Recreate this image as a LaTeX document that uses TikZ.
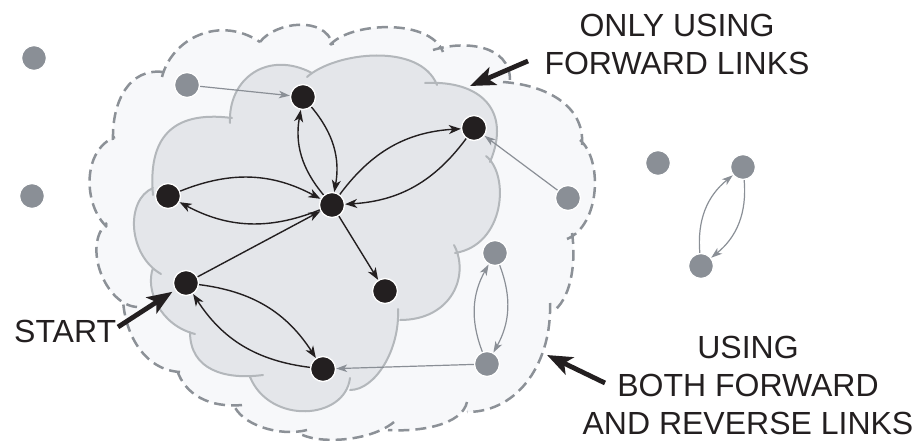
\documentclass[tikz,border=0pt]{standalone}
\usepackage{fontspec}
\setmainfont{Liberation Sans}
\usetikzlibrary{arrows.meta}
\definecolor{ink}{HTML}{231F20}
\definecolor{nodegray}{HTML}{8A8F96}
\definecolor{innerfill}{HTML}{E4E6EA}
\definecolor{innerline}{HTML}{B3B7BB}
\definecolor{outerfill}{HTML}{F7F8FA}
\definecolor{outerline}{HTML}{8C9197}

\begin{document}
\begin{tikzpicture}[x=1pt,y=-1pt,
  dot/.style={circle,minimum size=25pt,inner sep=0pt,draw=white,line width=1.3pt},
  bdot/.style={dot,fill=ink},
  gdot/.style={dot,fill=nodegray},
  blink/.style={draw=ink,line width=1.4pt,-{Stealth[length=12pt,width=9pt,inset=3.5pt]}},
  glink/.style={draw=nodegray,line width=1.2pt,-{Stealth[length=11pt,width=7.5pt,inset=3pt]}},
  pair/.style={bend left=25},
  callout/.style={draw=ink,line width=4.8pt,-{Stealth[length=25pt,width=19pt,inset=6pt]}},
  lbl/.style={font=\fontsize{32}{38}\selectfont,text=ink,inner sep=0pt,align=center},
  innerrim/.style={draw=innerline,line width=2pt,line cap=round},
  outerrim/.style={draw=outerline,line width=2.5pt,dash pattern=on 11pt off 6pt}]

\useasboundingbox (0,0) rectangle (921,441);

% outer region: nodes reachable using forward and reverse links
\fill[outerfill]
  (113,140) .. controls (112,100) and (130,68) .. (163,72)
  -- (162,77) .. controls (172,38) and (220,15) .. (260,42)
  -- (260,42) .. controls (275,22) and (325,15) .. (333,45)
  -- (330,45) .. controls (350,22) and (430,18) .. (443,52)
  -- (433,50) .. controls (465,40) and (510,45) .. (510,80)
  -- (503,82) .. controls (545,85) and (585,105) .. (582,145)
  -- (580,140) .. controls (603,160) and (600,225) .. (567,239)
  -- (572,233) .. controls (576,260) and (572,295) .. (555,310)
  -- (550,303) .. controls (552,360) and (520,412) .. (467,412)
  -- (467,402) .. controls (462,425) and (420,432) .. (388,430)
  -- (394,422) .. controls (370,442) and (315,445) .. (297,432)
  -- (307,430) .. controls (280,437) and (240,425) .. (233,403)
  -- (242,405) .. controls (210,408) and (185,395) .. (177,370)
  -- (180,372) .. controls (145,370) and (125,335) .. (123,300)
  -- (137,307) .. controls (105,305) and (82,245) .. (107,223)
  -- (107,227) .. controls (83,205) and (82,150) .. (115,137)
  -- cycle;
\draw[outerrim]
  (113,140) .. controls (112,100) and (130,68) .. (163,72)
  (162,77) .. controls (172,38) and (220,15) .. (260,42)
  (260,42) .. controls (275,22) and (325,15) .. (333,45)
  (330,45) .. controls (350,22) and (430,18) .. (443,52)
  (433,50) .. controls (465,40) and (510,45) .. (510,80)
  (503,82) .. controls (545,85) and (585,105) .. (582,145)
  (580,140) .. controls (603,160) and (600,225) .. (567,239)
  (572,233) .. controls (576,260) and (572,295) .. (555,310)
  (550,303) .. controls (552,360) and (520,412) .. (467,412)
  (467,402) .. controls (462,425) and (420,432) .. (388,430)
  (394,422) .. controls (370,442) and (315,445) .. (297,432)
  (307,430) .. controls (280,437) and (240,425) .. (233,403)
  (242,405) .. controls (210,408) and (185,395) .. (177,370)
  (180,372) .. controls (145,370) and (125,335) .. (123,300)
  (137,307) .. controls (105,305) and (82,245) .. (107,223)
  (107,227) .. controls (83,205) and (82,150) .. (115,137);

% inner region: nodes reachable using forward links only
\fill[innerfill]
  (153,192) .. controls (148,140) and (170,110) .. (232,118)
  -- (230,122) .. controls (228,78) and (268,50) .. (312,73)
  -- (310,75) .. controls (335,52) and (420,42) .. (437,85)
  -- (427,83) .. controls (480,80) and (512,110) .. (490,162)
  -- (487,158) .. controls (510,175) and (505,245) .. (455,253)
  -- (455,247) .. controls (470,275) and (452,320) .. (400,320)
  -- (398,310) .. controls (400,350) and (375,390) .. (350,390)
  -- (350,380) .. controls (345,420) and (270,425) .. (250,377)
  -- (262,375) .. controls (225,380) and (190,370) .. (190,332)
  -- (193,334) .. controls (160,325) and (145,290) .. (153,268)
  -- (160,272) .. controls (128,255) and (125,200) .. (153,188)
  -- cycle;
\draw[innerrim]
  (153,195) .. controls (148,140) and (170,110) .. (232,118)
  (230,123) .. controls (228,78) and (268,50) .. (312,73)
  (307,77) .. controls (335,52) and (420,42) .. (437,85)
  (425,83) .. controls (480,80) and (512,110) .. (490,162)
  (486,156) .. controls (510,175) and (505,245) .. (455,253)
  (454,245) .. controls (470,275) and (452,320) .. (400,320)
  (398,309) .. controls (400,350) and (375,390) .. (350,390)
  (350,378) .. controls (345,420) and (270,425) .. (250,377)
  (263,375) .. controls (225,380) and (190,370) .. (190,332)
  (195,334) .. controls (160,325) and (145,290) .. (153,268)
  (161,274) .. controls (128,255) and (125,200) .. (153,188);

% black nodes
\node[bdot] (A) at (303,97) {};
\node[bdot] (B) at (474,128) {};
\node[bdot] (C) at (168,196) {};
\node[bdot] (D) at (332,205) {};
\node[bdot] (E) at (186,283) {};
\node[bdot] (F) at (385,291) {};
\node[bdot] (G) at (323,369) {};

% gray nodes
\node[gdot] (g1) at (34,58) {};
\node[gdot] (g2) at (187,85) {};
\node[gdot] (g3) at (32,196) {};
\node[gdot] (g4) at (568,198) {};
\node[gdot] (g5) at (495,253) {};
\node[gdot] (g6) at (487,364) {};
\node[gdot] (g7) at (658,163) {};
\node[gdot] (g8) at (743,167) {};
\node[gdot] (g9) at (701,266) {};

% forward links
\draw[blink] (D) to[pair] (A);
\draw[blink] (A) to[pair] (D);
\draw[blink] (C) to[pair] (D);
\draw[blink] (D) to[pair] (C);
\draw[blink] (D) to[pair] (B);
\draw[blink] (B) to[pair] (D);
\draw[blink] (E) to[pair] (G);
\draw[blink] (G) to[pair] (E);
\draw[blink] (E) -- (D);
\draw[blink] (D) -- (F);

% reverse links
\draw[glink] (g2) -- (A);
\draw[glink] (g4) -- (B);
\draw[glink] (g6) -- (G);
\draw[glink] (g6) to[pair] (g5);
\draw[glink] (g5) to[pair] (g6);
\draw[glink] (g9) to[bend left=28] (g8);
\draw[glink] (g8) to[bend left=28] (g9);

% labels and callouts
\node[lbl,anchor=north] (fwdlbl) at (677,14) {ONLY USING\\FORWARD LINKS};
\node[lbl,anchor=north] (bothlbl) at (748,336) {USING\\BOTH FORWARD\\AND REVERSE LINKS};
\node[lbl,anchor=base west] (startlbl) at (14,342) {START};

\coordinate (startTail) at (118,327);
\coordinate (fwdTail) at (528,61);
\coordinate (fwdTip) at (470,86);
\coordinate (bothTail) at (605,383);
\coordinate (bothTip) at (547,355);

\draw[callout,shorten >=3pt] (startTail) -- (E);
\draw[callout] (fwdTail) -- (fwdTip);
\draw[callout] (bothTail) -- (bothTip);
\end{tikzpicture}
\end{document}
